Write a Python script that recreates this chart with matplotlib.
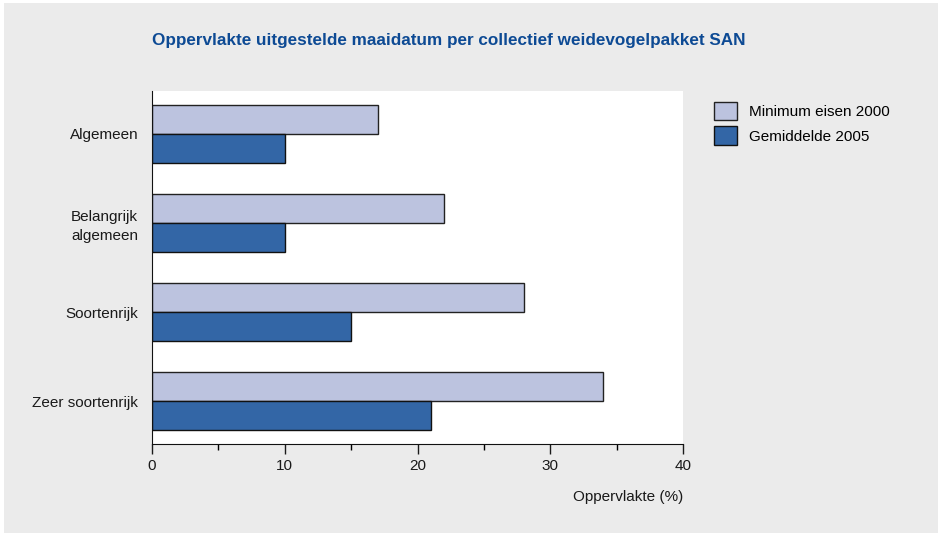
import numpy as np
import matplotlib.pyplot as plt
from matplotlib.patches import Rectangle

plt.rcParams['font.family'] = ['Liberation Sans', 'DejaVu Sans']

categories = ['Algemeen', 'Belangrijk\nalgemeen', 'Soortenrijk', 'Zeer soortenrijk']
minimum_2000 = [17, 22, 28, 34]
gemiddelde_2005 = [10, 10, 15, 21]
series_names = ['Minimum eisen 2000', 'Gemiddelde 2005']
xticks = [0, 10, 20, 30, 40]

light = '#bcc3df'
dark = '#3366a6'
bg = '#ebebeb'

fig = plt.figure(figsize=(9.38, 5.33), dpi=100, facecolor='white')
fig.patches.append(Rectangle((4/938, -0.01), 1, 1.01 - 3/533, transform=fig.transFigure,
                             facecolor=bg, edgecolor='none', zorder=-10))

ax = fig.add_axes([152/938, 1-444/533, (683-152)/938, (444-91)/533])
ax.set_facecolor('white')

y = np.arange(len(categories))
h = 0.33
ax.barh(y - h/2, minimum_2000, height=h, color=light, edgecolor='#222222', linewidth=1.0,
        label=series_names[0])
ax.barh(y + h/2, gemiddelde_2005, height=h, color=dark, edgecolor='#111111', linewidth=1.0,
        label=series_names[1])

ax.set_ylim(3.483, -0.483)
ax.set_xlim(0, 40)
ax.set_yticks(y)
ax.set_yticklabels(categories, fontsize=11, color='#1a1a1a', linespacing=1.45)
ax.tick_params(axis='y', length=0, pad=10)
ax.set_xticks(xticks)
ax.set_xticks([5, 15, 25, 35], minor=True)
ax.tick_params(axis='x', which='major', length=7, width=1, labelsize=11, pad=4, colors='#1a1a1a')
ax.tick_params(axis='x', which='minor', length=4, width=1)
for s in ['top', 'right']:
    ax.spines[s].set_visible(False)
ax.spines['left'].set_color('#111111')
ax.spines['bottom'].set_color('#111111')

ax.set_xlabel('Oppervlakte (%)', fontsize=11, color='#1a1a1a')
ax.xaxis.set_label_coords(1.0, -0.13)
ax.xaxis.label.set_horizontalalignment('right')

fig.text(152/938, 1-40/533, 'Oppervlakte uitgestelde maaidatum per collectief weidevogelpakket SAN',
         fontsize=12.3, fontweight='bold', color='#0d4a94', va='center', ha='left')

leg = fig.legend(loc='upper left', bbox_to_anchor=(700/938, 1-88/533), frameon=False,
                 fontsize=11, handlelength=1.5, handleheight=1.5, labelspacing=0.4,
                 handletextpad=0.8)

fig.savefig('out.png', dpi=100, facecolor=fig.get_facecolor())
